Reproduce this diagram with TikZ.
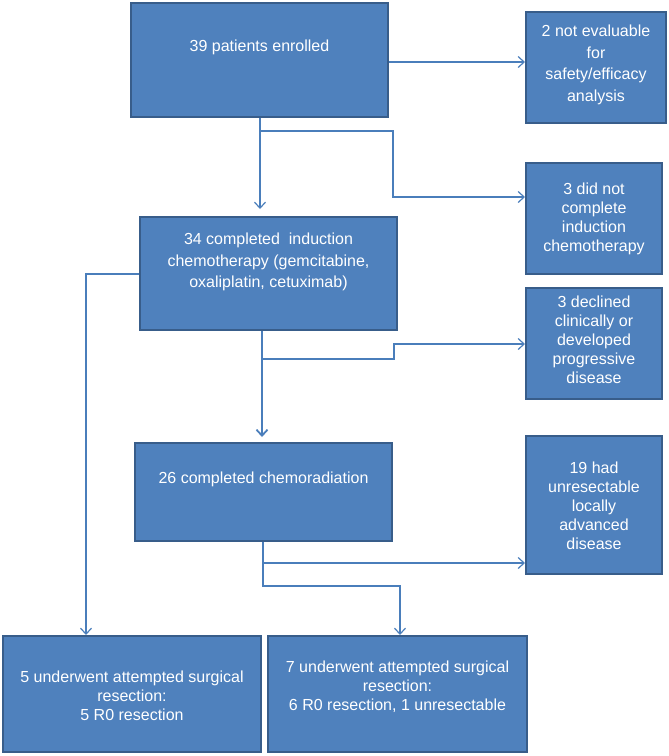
\documentclass[tikz,border=0pt]{standalone}
\usepackage{fontspec}
\setmainfont{Liberation Sans}
\usetikzlibrary{arrows.meta}
\definecolor{boxfill}{HTML}{4F81BD}
\definecolor{boxline}{HTML}{385D8A}
\definecolor{linkcol}{HTML}{4A7EBB}

\begin{document}
\begin{tikzpicture}[x=1pt,y=-1pt,
  box/.style={draw=boxline,line width=2pt,fill=boxfill,inner sep=0pt},
  txt/.style={text=white,align=center,inner sep=0pt,font=\fontsize{16}{19}\selectfont},
  widetxt/.style={txt,font=\fontsize{16}{21.5}\selectfont},
  link/.style={draw=linkcol,line width=1.2pt,-{Straight Barb[length=6pt,width=11pt]}}]
  \useasboundingbox (0,0) rectangle (669,756);

  \node[box,minimum width=257,minimum height=114] (enrolled) at (259.5,60) {};
  \node[box,minimum width=140,minimum height=111] (noteval) at (596,67.5) {};
  \node[box,minimum width=136,minimum height=111] (notcompl) at (594,218.5) {};
  \node[box,minimum width=257,minimum height=113] (induction) at (268.5,273.5) {};
  \node[box,minimum width=136,minimum height=111] (declined) at (594,343.5) {};
  \node[box,minimum width=257,minimum height=98] (chemorad) at (263.5,492) {};
  \node[box,minimum width=136,minimum height=138] (unres) at (594,505) {};
  \node[box,minimum width=258,minimum height=116] (surgA) at (132,694) {};
  \node[box,minimum width=259,minimum height=116] (surgB) at (397.5,694) {};

  \node[txt] (enrolledtxt) at (259.5,47) {39 patients enrolled};
  \node[widetxt] (notevaltxt) at (596,65) {2 not evaluable\\for\\safety/efficacy\\analysis};
  \node[txt] (notcompltxt) at (594,219) {3 did not\\complete\\induction\\chemotherapy};
  \node[widetxt] (inductiontxt) at (268.5,262) {34 completed\ \ induction\\chemotherapy (gemcitabine,\\oxaliplatin, cetuximab)};
  \node[txt] (declinedtxt) at (594,340) {3 declined\\clinically or\\developed\\progressive\\disease};
  \node[txt] (chemoradtxt) at (263.5,479) {26 completed chemoradiation};
  \node[txt] (unrestxt) at (594,506) {19 had\\unresectable\\locally\\advanced\\disease};
  \node[txt] (surgAtxt) at (132,696) {5 underwent attempted surgical\\resection:\\5 R0 resection};
  \node[txt] (surgBtxt) at (397.5,687) {7 underwent attempted surgical\\resection:\\6 R0 resection, 1 unresectable};

  % Draw edges
  \coordinate (split1) at (260,131);
  \coordinate (bend1) at (393,197);
  \coordinate (tip1) at (260,209);
  \coordinate (leftrun) at (86,274);
  \coordinate (split2) at (262,359);
  \coordinate (bend2) at (394,344);
  \coordinate (tip2) at (262,437);
  \coordinate (split3) at (263,563);
  \coordinate (bend3) at (400,586);

  \draw[link] (enrolled.east |- 0,62) -- (noteval.west |- 0,62);
  \draw[link] (enrolled.south -| split1) -- (tip1);
  \draw[link] (split1) -| (bend1) -- (notcompl.west |- bend1);
  \draw[link] (induction.west |- leftrun) -- (leftrun) -- (surgA.north -| leftrun);
  \draw[link,line width=1.8pt] (induction.south -| split2) -- (tip2);
  \draw[link] (split2) -| (bend2) -- (declined.west |- bend2);
  \draw[link] (chemorad.south -| split3) |- (bend3) -- (surgB.north -| bend3);
  \draw[link] (split3) -- (unres.west |- split3);
\end{tikzpicture}
\end{document}
